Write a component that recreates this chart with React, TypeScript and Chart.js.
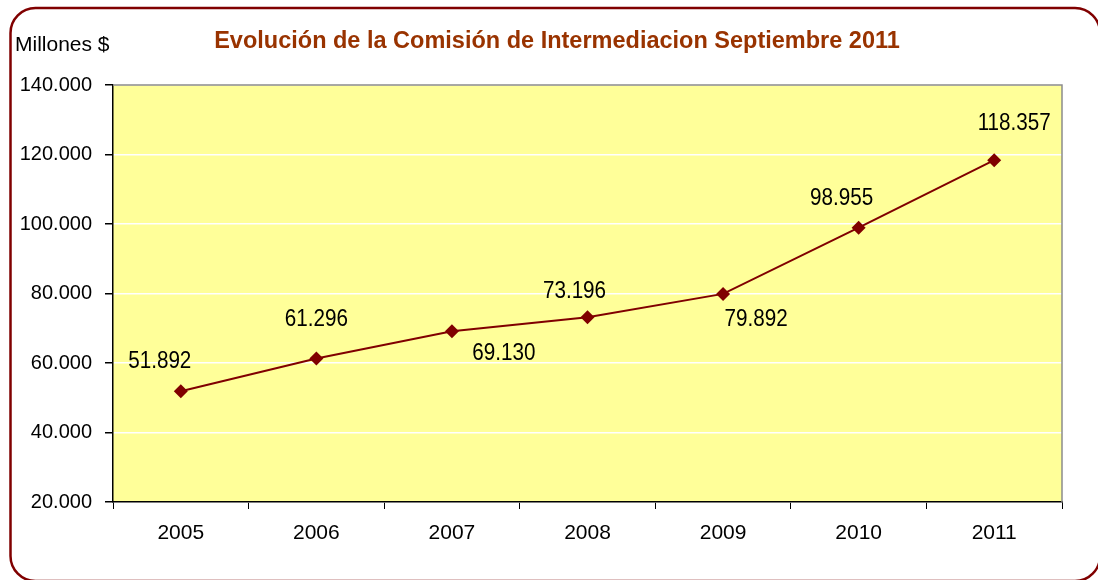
import React, { useEffect, useRef } from "react";
import { Chart, registerables } from "chart.js";

Chart.register(...registerables);

const years = ["2005", "2006", "2007", "2008", "2009", "2010", "2011"];
const comision = [51892, 61296, 69130, 73196, 79892, 98955, 118357];
const yMin = 20000;
const yMax = 140000;
const yStep = 20000;
const titleText = "Evolución de la Comisión de Intermediacion Septiembre 2011";
const unitText = "Millones $";
// label offset (dx, dy) relative to each point, in px
const labelDx = [-21, 0, 52, -13, 33, -17, 20];
const labelDy = [-31, -40, 21, -27, 24, -30, -38];

const FONT = "'Liberation Sans', Arial, sans-serif";

const fmt = (v: number) => {
  const s = Math.round(v).toString();
  return s.replace(/\B(?=(\d{3})+(?!\d))/g, ".");
};

const decorPlugin = {
  id: "decor",
  beforeDraw(chart: any) {
    const { ctx, chartArea } = chart;
    ctx.save();
    ctx.fillStyle = "#ffffff";
    ctx.fillRect(0, 0, chart.width, chart.height);
    // rounded frame
    const x = 10.5, y = 8, w = 1089.5, h = 573, r = 25;
    ctx.beginPath();
    ctx.moveTo(x + r, y);
    ctx.lineTo(x + w - r, y);
    ctx.arcTo(x + w, y, x + w, y + r, r);
    ctx.lineTo(x + w, y + h - r);
    ctx.arcTo(x + w, y + h, x + w - r, y + h, r);
    ctx.lineTo(x + r, y + h);
    ctx.arcTo(x, y + h, x, y + h - r, r);
    ctx.lineTo(x, y + r);
    ctx.arcTo(x, y, x + r, y, r);
    ctx.closePath();
    ctx.lineWidth = 2.5;
    ctx.strokeStyle = "#800000";
    ctx.stroke();
    // plot background
    ctx.fillStyle = "#FFFF99";
    ctx.fillRect(chartArea.left, chartArea.top, chartArea.right - chartArea.left, chartArea.bottom - chartArea.top);
    // title
    ctx.fillStyle = "#993300";
    ctx.font = `bold 23.5px ${FONT}`;
    ctx.textAlign = "center";
    ctx.textBaseline = "middle";
    ctx.fillText(titleText, 557, 42);
    // unit
    ctx.fillStyle = "#000000";
    ctx.font = `21px ${FONT}`;
    ctx.textAlign = "left";
    ctx.fillText(unitText, 15, 45);
    ctx.restore();
  },
  afterDatasetsDraw(chart: any) {
    const { ctx, chartArea } = chart;
    ctx.save();
    // plot border top/right gray
    ctx.strokeStyle = "#8c8c8c";
    ctx.lineWidth = 1.5;
    ctx.beginPath();
    ctx.moveTo(chartArea.left, chartArea.top);
    ctx.lineTo(chartArea.right, chartArea.top);
    ctx.lineTo(chartArea.right, chartArea.bottom);
    ctx.stroke();
    // data labels (slightly condensed, as in the reference)
    const meta = chart.getDatasetMeta(0);
    const sx = 0.86;
    ctx.fillStyle = "#000000";
    ctx.font = `24px ${FONT}`;
    ctx.textAlign = "center";
    ctx.textBaseline = "middle";
    meta.data.forEach((pt: any, i: number) => {
      ctx.save();
      ctx.translate(pt.x + labelDx[i], pt.y + labelDy[i]);
      ctx.scale(sx, 1);
      ctx.fillText(fmt(comision[i]), 0, 1);
      ctx.restore();
    });
    ctx.restore();
  },
};

export default function App() {
  const ref = useRef<HTMLCanvasElement | null>(null);
  useEffect(() => {
    document.body.style.margin = "0";
    const chart = new Chart(ref.current as HTMLCanvasElement, {
      type: "line",
      data: {
        labels: years,
        datasets: [
          {
            data: comision,
            borderColor: "#800000",
            backgroundColor: "#800000",
            borderWidth: 2,
            pointStyle: "rectRot",
            pointRadius: 7,
            pointBorderWidth: 0,
            tension: 0,
          },
        ],
      },
      options: {
        animation: false,
        responsive: false,
        devicePixelRatio: 1,
        layout: { padding: { left: 0, top: 85, right: 36, bottom: 0 } },
        plugins: { legend: { display: false }, tooltip: { enabled: false }, title: { display: false } },
        scales: {
          x: {
            offset: true,
            grid: { offset: true, drawOnChartArea: false, color: "#000", tickColor: "#000", tickLength: 7, lineWidth: 1 },
            border: { display: true, color: "#000", width: 1.5 },
            ticks: { color: "#000", font: { family: FONT, size: 21 }, padding: 12, maxRotation: 0 },
            afterFit: (s: any) => { s.height = 78; },
          },
          y: {
            min: yMin,
            max: yMax,
            grid: { color: "#ffffff", tickColor: "#000", tickLength: 8, lineWidth: 1.5 },
            border: { display: true, color: "#000", width: 1.5 },
            ticks: {
              stepSize: yStep,
              color: "#000",
              font: { family: FONT, size: 20 },
              padding: 13,
              callback: (v: any) => fmt(Number(v)),
            },
            afterFit: (s: any) => { s.width = 113; },
          },
        },
      },
      plugins: [decorPlugin],
    });
    return () => chart.destroy();
  }, []);
  return (
    <div style={{ position: "absolute", left: 0, top: 0 }}>
      <canvas ref={ref} width={1098} height={580} style={{ display: "block" }} />
    </div>
  );
}
